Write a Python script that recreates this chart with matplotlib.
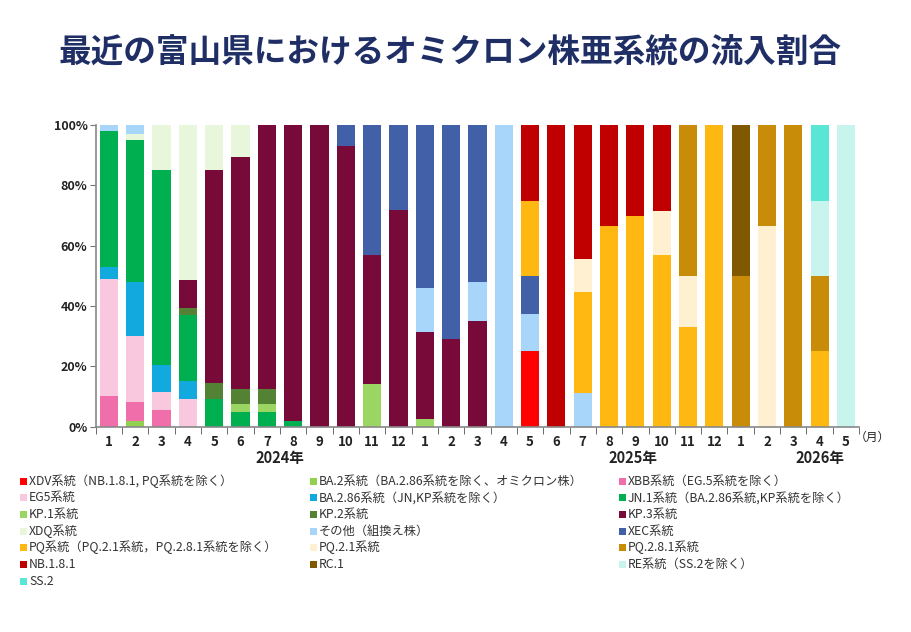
import matplotlib
matplotlib.use("Agg")
import matplotlib.pyplot as plt
import numpy as np
from matplotlib.patches import Rectangle

plt.rcParams['font.family'] = ['Noto Sans CJK JP', 'DejaVu Sans']

months = ["1","2","3","4","5","6","7","8","9","10","11","12",
          "1","2","3","4","5","6","7","8","9","10","11","12",
          "1","2","3","4","5"]
years = ["2024年", "2025年", "2026年"]

N = 29
def s(d):
    a = np.zeros(N)
    for k, v in d.items():
        a[k] = v
    return a

series_names = [
    "XDV系統（NB.1.8.1, PQ系統を除く）",
    "BA.2系統（BA.2.86系統を除く、オミクロン株）",
    "XBB系統（EG.5系統を除く）",
    "EG5系統",
    "BA.2.86系統（JN,KP系統を除く）",
    "JN.1系統（BA.2.86系統,KP系統を除く）",
    "KP.1系統",
    "KP.2系統",
    "KP.3系統",
    "XDQ系統",
    "その他（組換え株）",
    "XEC系統",
    "PQ系統（PQ.2.1系統，PQ.2.8.1系統を除く）",
    "PQ.2.1系統",
    "PQ.2.8.1系統",
    "NB.1.8.1",
    "RC.1",
    "RE系統（SS.2を除く）",
    "SS.2",
]

XDV = s({16: 25})
BA2 = s({1: 2})
XBB = s({0: 10, 1: 6, 2: 5.5})
EG5 = s({0: 39, 1: 22, 2: 6, 3: 9})
BA286 = s({0: 4, 1: 18, 2: 9, 3: 6})
JN1 = s({0: 45, 1: 47, 2: 64.5, 3: 22, 4: 9, 5: 5, 6: 5, 7: 2})
KP1 = s({5: 2.5, 6: 2.5, 10: 14, 12: 2.5})
KP2 = s({3: 2.5, 4: 5.5, 5: 5, 6: 5})
KP3 = s({3: 9, 4: 70.5, 5: 77, 6: 87.5, 7: 98, 8: 100, 9: 93, 10: 43,
         11: 72, 12: 29, 13: 29, 14: 35})
XDQ = s({1: 2, 2: 15, 3: 51.5, 4: 15, 5: 10.5})
OTHER = s({0: 2, 1: 3, 12: 14.5, 14: 13, 15: 100, 16: 12.5, 18: 11})
XEC = s({9: 7, 10: 43, 11: 28, 12: 54, 13: 71, 14: 52, 16: 12.5})
PQ = s({16: 25, 18: 33.5, 19: 66.5, 20: 70, 21: 57, 22: 33, 23: 100, 27: 25})
PQ21 = s({18: 11, 21: 14.5, 22: 17, 25: 66.5})
PQ281 = s({22: 50, 24: 50, 25: 33.5, 26: 100, 27: 25})
NB181 = s({16: 25, 17: 100, 18: 44.5, 19: 33.5, 20: 30, 21: 28.5})
RC1 = s({24: 50})
RE = s({27: 25, 28: 100})
SS2 = s({27: 25})

series_values = [XDV, BA2, XBB, EG5, BA286, JN1, KP1, KP2, KP3, XDQ, OTHER,
                 XEC, PQ, PQ21, PQ281, NB181, RC1, RE, SS2]

colors = ["#FF0000", "#92D050", "#F06EAA", "#FAC8DE", "#12A9DE", "#00B050",
          "#9BD665", "#548235", "#780A3A", "#E8F6DC", "#A8D6FA", "#4160A8",
          "#FFB712", "#FFF0D2", "#C88C08", "#C00000", "#805800", "#C8F4EE",
          "#5AE6D4"]

W, H = 912, 632
fig = plt.figure(figsize=(W / 100, H / 100), dpi=100)
ax = fig.add_axes([0.105, 0.325, 0.837, 0.477])

x = np.arange(N)
bottom = np.zeros(N)
for name, vals, c in zip(series_names, series_values, colors):
    ax.bar(x, vals, bottom=bottom, width=0.69, color=c, label=name, linewidth=0)
    bottom += vals

ax.set_xlim(-0.5, 28.5)
ax.set_ylim(0, 100)
ax.set_yticks([0, 20, 40, 60, 80, 100])
ax.set_yticklabels([f"{v}%" for v in [0, 20, 40, 60, 80, 100]],
                   fontsize=9, fontweight='bold', color='#222222')
ax.set_xticks(x)
ax.set_xticklabels(months, fontsize=9.5, fontweight='bold', color='#222222')
ax.tick_params(axis='x', length=0, pad=6)
ax.set_xticks(np.arange(-0.5, 29, 1), minor=True)
ax.tick_params(axis='x', which='minor', length=5, color='#555555', direction='out')
ax.tick_params(axis='y', length=4, color='#777777', pad=2)
for sp in ['top', 'right']:
    ax.spines[sp].set_visible(False)
for sp in ['left', 'bottom']:
    ax.spines[sp].set_color('#888888')
    ax.spines[sp].set_linewidth(1.2)

for lab, pos in zip(years, [6.5, 19.9, 27]):
    ax.text(pos, -10.5, lab, ha='center', va='center', fontsize=10.5,
            fontweight='bold', color='#222222', transform=ax.transData)
ax.text(29.0, -3.5, "（月）", ha='center', va='center', fontsize=8.5,
        color='#222222', transform=ax.transData, clip_on=False)

fig.text(0.494, 0.916, "最近の富山県におけるオミクロン株亜系統の流入割合",
         ha='center', va='center', fontsize=23.5, fontweight='bold',
         color='#1F2F66')

# legend, laid out row-wise in 3 columns
col_x = [20, 310, 619]
row_y0, row_dy = 481, 16.67
sq = 7
for i, (name, c) in enumerate(zip(series_names, colors)):
    r, col = divmod(i, 3)
    px, py = col_x[col], row_y0 + r * row_dy
    fig.add_artist(Rectangle((px / W, 1 - (py + sq / 2) / H), sq / W, sq / H,
                             transform=fig.transFigure, facecolor=c,
                             edgecolor='none'))
    fig.text((px + sq + 2) / W, 1 - py / H, name, ha='left', va='center',
             fontsize=8.8, color='#333333')

fig.savefig("out.png", dpi=100)
